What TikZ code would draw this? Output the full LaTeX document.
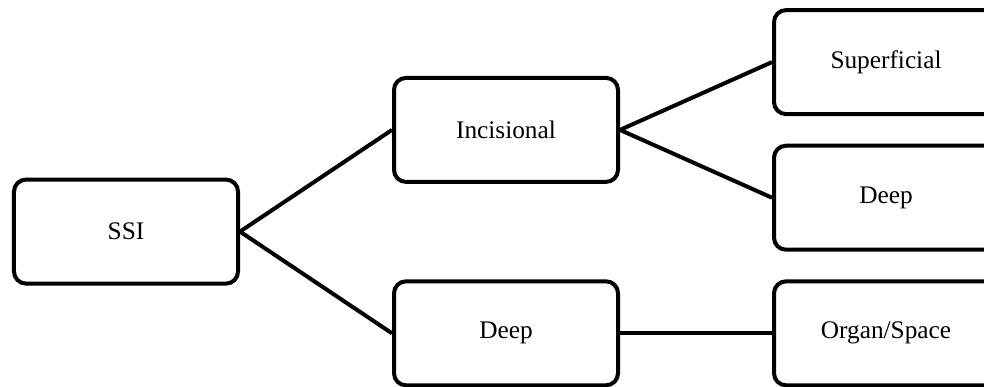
\documentclass[tikz,border=0pt]{standalone}
\usepackage{fontspec}
\setmainfont{Liberation Serif}
\usepackage{tikz-qtree}

\begin{document}
\begin{tikzpicture}[grow'=right, level distance=9.5cm, sibling distance=0.69cm]
	\tikzset{every tree node/.style={draw, line width=0.1cm, rounded corners=0.3cm, minimum width=5.6cm, minimum height=2.6cm, font=\fontsize{18}{21}\selectfont}}
	\tikzset{edge from parent/.style={draw, line width=0.1cm, edge from parent path={(\tikzparentnode.east) -- (\tikzchildnode.west)}}}
	    \Tree [.\node(ssi){SSI};
	            [.\node(incisional){Incisional};
	            	\node(superficial){Superficial};
	            	\node(deepinc){Deep};
	            ]
	            [.\node(deep){Deep};
	            	\node(organ){Organ/Space};
	            ]
	          ]
	% the page cuts the right column, as in the figure
	\pgfresetboundingbox
	\useasboundingbox ([shift={(-3.15,5.79)}]ssi.center) rectangle ([shift={(21.45,-3.885)}]ssi.center);
\end{tikzpicture}
\end{document}
